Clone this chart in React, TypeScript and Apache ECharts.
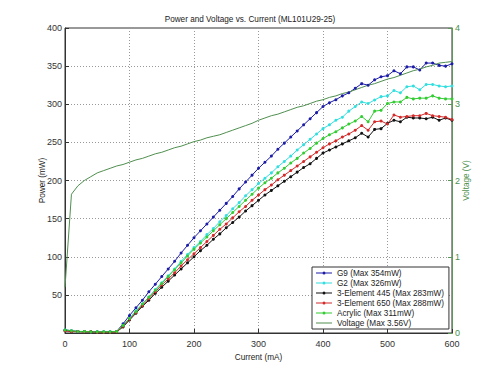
import React, { useEffect, useRef } from "react";
import * as echarts from "echarts";

const currents: number[] = [
  0, 10, 20, 30, 40, 50, 60, 70, 80, 90, 100, 110, 120, 130, 140, 150, 160, 170, 180, 190,
  200, 210, 220, 230, 240, 250, 260, 270, 280, 290, 300, 310, 320, 330, 340, 350, 360, 370, 380, 390,
  400, 410, 420, 430, 440, 450, 460, 470, 480, 490, 500, 510, 520, 530, 540, 550, 560, 570, 580, 590, 600,
];

const g9: number[] = [
  4, 3, 2, 2, 1.5, 1.5, 1.5, 1.5, 2, 12, 23, 33, 43, 54, 64, 74, 84, 94, 105, 115,
  125, 134, 143, 152, 161, 170, 179, 189, 198, 207, 216, 224, 232, 241, 249, 257, 265, 273, 281, 289,
  297, 302, 306, 311, 315, 321, 327, 325, 332, 336, 337.5, 344, 340, 349, 349, 345, 354, 354, 351, 350, 353,
];

const g2: number[] = [
  4, 3, 2, 2, 1.5, 1.5, 1.5, 1.5, 2, 10, 19, 29, 38, 47, 57, 66, 75, 84, 94, 103,
  112, 120, 129, 137, 146, 154, 163, 171, 180, 188, 196, 203, 210, 218, 225, 232, 240, 247, 254, 261,
  268, 273, 279, 283, 291, 297, 303, 301, 305.6, 310, 311, 318, 315, 323, 324, 319, 326, 326, 324, 323, 324,
];

const el445: number[] = [
  3, 2, 2, 1.5, 1.5, 1, 1, 1, 1.5, 8, 17, 26, 35, 43, 52, 60, 68, 76, 84, 92,
  100, 108, 115, 123, 130, 138, 145, 152, 160, 167, 174, 181, 187, 193, 199, 205, 211, 217, 222, 229,
  236, 240, 244, 248, 252, 256, 262, 257, 267, 268, 275, 279, 277, 283, 282, 282, 281, 283, 279, 282, 279,
];

const el650: number[] = [
  3, 2, 2, 1.5, 1.5, 1, 1, 1, 1.5, 9, 18, 27, 36, 45, 54, 63, 71, 79, 88, 96,
  104, 112, 120, 128, 136, 143, 151, 159, 166, 174, 181, 188, 194, 201, 207, 213, 219, 225, 231, 237,
  243, 248, 252, 257, 261, 266, 272, 266, 277, 278, 274, 286, 283, 284, 285, 285, 288, 285, 284, 283, 280,
];

const acrylic: number[] = [
  4, 3, 2, 2, 1.5, 1.5, 1.5, 1.5, 2, 10, 19, 28, 38, 47, 56, 65, 74, 83, 92, 101,
  110, 118, 126, 134, 142, 150, 158, 166, 174, 182, 190, 197, 203, 210, 216, 223, 229, 236, 242, 249,
  255, 260, 264, 269, 274, 278, 284, 277, 291, 292, 301, 303, 303, 309, 307, 308, 308, 311, 308, 307, 307,
];

const voltage: number[] = [
  0.6, 1.82, 1.93, 2.0, 2.05, 2.1, 2.13, 2.16, 2.19, 2.21, 2.24, 2.27, 2.29, 2.32, 2.35, 2.37, 2.4, 2.43, 2.45, 2.48,
  2.51, 2.53, 2.56, 2.58, 2.6, 2.63, 2.66, 2.69, 2.72, 2.75, 2.79, 2.82, 2.85, 2.87, 2.9, 2.93, 2.96, 2.98, 3.01, 3.04,
  3.06, 3.09, 3.11, 3.14, 3.16, 3.19, 3.22, 3.25, 3.27, 3.3, 3.33, 3.35, 3.38, 3.41, 3.44, 3.46, 3.49, 3.51, 3.54, 3.55, 3.56,
];

const seriesNames: string[] = [
  "G9 (Max 354mW)",
  "G2 (Max 326mW)",
  "3-Element 445 (Max 283mW)",
  "3-Element 650 (Max 288mW)",
  "Acrylic (Max 311mW)",
  "Voltage (Max 3.56V)",
];

const FONT = "Arial, 'Liberation Sans', sans-serif";
const ICON_DOT_LINE = "path://M0,4.5L16,4.5L16,5.5L0,5.5Z M9.5,5A1.5,1.5 0 1 1 6.5,5A1.5,1.5 0 1 1 9.5,5Z";
const ICON_LINE = "path://M0,4.5L16,4.5L16,5.5L0,5.5Z";

export default function App() {
  const ref = useRef<HTMLDivElement>(null);
  useEffect(() => {
    if (!ref.current) return;
    const chart = echarts.init(ref.current, undefined, { renderer: "svg" });
    const pair = (ys: number[]) => currents.map((x, i) => [x, ys[i]]);
    const powerSeries = (name: string, ys: number[], color: string) => ({
      name,
      type: "line",
      data: pair(ys),
      yAxisIndex: 0,
      symbol: "circle",
      symbolSize: 3,
      showSymbol: true,
      itemStyle: { color },
      lineStyle: { color, width: 1 },
    });
    chart.setOption({
      animation: false,
      backgroundColor: "#fff",
      textStyle: { fontFamily: FONT },
      title: {
        text: "Power and Voltage vs. Current (ML101U29-25)",
        left: "center",
        top: 15,
        padding: 0,
        textStyle: { fontSize: 8.2, fontWeight: "normal", color: "#222", fontFamily: FONT },
      },
      grid: {
        left: 65,
        right: 48,
        top: 28,
        bottom: 42,
        show: true,
        borderColor: "#333",
        borderWidth: 1,
        backgroundColor: "#fff",
      },
      legend: {
        orient: "vertical",
        left: 312,
        top: 267,
        padding: [1, 5, 1, 4],
        itemGap: 0,
        itemWidth: 16,
        itemHeight: 10,
        backgroundColor: "#fff",
        borderColor: "#333",
        borderWidth: 1,
        borderRadius: 0,
        symbolKeepAspect: true,
        textStyle: { fontSize: 8.2, color: "#222", fontFamily: FONT, lineHeight: 10 },
        data: seriesNames.map((n, i) => ({ name: n, icon: i === 5 ? ICON_LINE : ICON_DOT_LINE })),
      },
      xAxis: {
        type: "value",
        min: 0,
        max: 600,
        interval: 100,
        name: "Current (mA)",
        nameLocation: "middle",
        nameGap: 20,
        nameMoveOverlap: false,
        nameTextStyle: { fontSize: 8.2, color: "#222" },
        axisLine: { lineStyle: { color: "#333", width: 1 } },
        axisTick: { inside: true, length: 4, lineStyle: { color: "#333" } },
        axisLabel: { fontSize: 9, color: "#333", margin: 6 },
        splitLine: { show: true, lineStyle: { type: [1, 2], color: "#999", width: 1 } },
      },
      yAxis: [
        {
          type: "value",
          min: 0,
          max: 400,
          interval: 50,
          name: "Power (mW)",
          nameLocation: "middle",
          nameGap: 19,
          nameMoveOverlap: false,
          nameTextStyle: { fontSize: 8.2, color: "#222" },
          axisLine: { show: true, lineStyle: { color: "#333", width: 1 } },
          axisTick: { show: true, inside: true, length: 4, lineStyle: { color: "#333" } },
          axisLabel: {
            fontSize: 9,
            color: "#333",
            margin: 3,
            formatter: (v: number) => (v === 0 ? "" : String(v)),
          },
          splitLine: { show: true, lineStyle: { type: [1, 2], color: "#999", width: 1 } },
        },
        {
          type: "value",
          min: 0,
          max: 4,
          interval: 1,
          position: "right",
          name: "Voltage (V)",
          nameLocation: "middle",
          nameRotate: 90,
          nameGap: 10,
          nameMoveOverlap: false,
          nameTextStyle: { fontSize: 8.2, color: "#4c8f4c" },
          axisLine: { show: true, lineStyle: { color: "#5b9a5b", width: 1 } },
          axisTick: { show: true, inside: true, length: 4, lineStyle: { color: "#5b9a5b" } },
          axisLabel: { fontSize: 9, color: "#4c8f4c", margin: 3 },
          splitLine: { show: false },
        },
      ],
      series: [
        powerSeries(seriesNames[0], g9, "#1c1ca8"),
        powerSeries(seriesNames[1], g2, "#33dede"),
        powerSeries(seriesNames[2], el445, "#111111"),
        powerSeries(seriesNames[3], el650, "#d42a2a"),
        powerSeries(seriesNames[4], acrylic, "#33cc33"),
        {
          name: seriesNames[5],
          type: "line",
          data: pair(voltage),
          yAxisIndex: 1,
          symbol: "none",
          showSymbol: false,
          itemStyle: { color: "#4f8f4f" },
          lineStyle: { color: "#4f8f4f", width: 1 },
        },
      ],
    });
    return () => chart.dispose();
  }, []);
  return <div ref={ref} style={{ position: "absolute", left: 0, top: 0, width: 500, height: 375 }} />;
}
